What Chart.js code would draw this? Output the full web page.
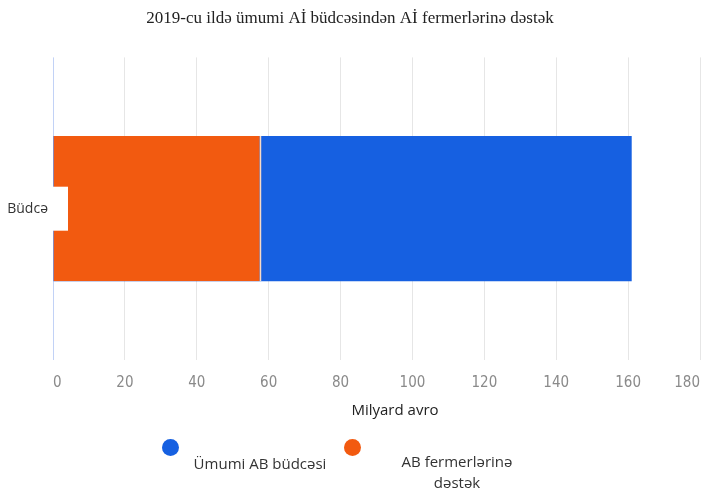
<!DOCTYPE html>
<html>
<head>
<meta charset="utf-8">
<script src="https://cdn.jsdelivr.net/npm/chart.js@4/dist/chart.umd.min.js"></script>
<style>
  html, body { margin: 0; padding: 0; background: #fff; }
  #wrap { position: relative; width: 703px; height: 490px; }
  #legend { position: absolute; left: 0; top: 0; width: 703px; height: 490px; pointer-events: none;
            font-family: "Open Sans", sans-serif; font-size: 15px; color: #333; }
  .dot { position: absolute; width: 17px; height: 17px; border-radius: 50%; }
  .lbl { position: absolute; text-align: center; line-height: 21px; }
  #xtitle { position: absolute; left: 295px; top: 398px; width: 200px; text-align: center;
            font-family: "Open Sans", sans-serif; font-size: 15px; color: #222; line-height: 22px; }
</style>
</head>
<body>
<div id="wrap">
  <canvas id="c" width="703" height="490"></canvas>
  <div id="legend"></div>
  <div id="xtitle"></div>
</div>
<script>
const titleText = "2019-cu ildə ümumi Aİ büdcəsindən Aİ fermerlərinə dəstək";
const categories = ["Büdcə"];
const seriesNames = ["Ümumi AB büdcəsi", "AB fermerlərinə dəstək"];
const totalBudget = [161];
const farmerSupport = [58];
const seriesColors = ["#1660E1", "#F25A10"];
const xTitle = "Milyard avro";

// white label box that overlaps the start of the bar (as in the reference)
const labelBoxPlugin = {
  id: 'labelBox',
  afterDatasetsDraw(chart) {
    const ys = chart.scales.y, ctx = chart.ctx;
    ctx.save();
    ctx.fillStyle = '#ffffff';
    ys.ticks.forEach((t, i) => {
      const py = ys.getPixelForTick(i);
      ctx.fillRect(ys.right - 1, py - 22, 16, 44);
    });
    ctx.restore();
  }
};

const chart = new Chart(document.getElementById('c'), {
  type: 'bar',
  data: {
    labels: categories,
    datasets: [
      { label: seriesNames[0], data: totalBudget, backgroundColor: seriesColors[0], order: 2,
        barPercentage: 0.8, categoryPercentage: 0.6 },
      { label: seriesNames[1], data: farmerSupport, backgroundColor: seriesColors[1], order: 1,
        borderColor: '#f7d9c6', borderWidth: { right: 2, left: 0, top: 0, bottom: 0 }, borderSkipped: false,
        barPercentage: 0.8, categoryPercentage: 0.6 }
    ]
  },
  plugins: [labelBoxPlugin],
  options: {
    indexAxis: 'y',
    responsive: false,
    animation: false,
    layout: { padding: { left: 0, right: 3, top: 0, bottom: 84 } },
    plugins: {
      legend: { display: false },
      tooltip: { enabled: false },
      title: {
        display: true, text: titleText, color: '#222',
        font: { family: '"Liberation Serif", "Times New Roman", serif', size: 17, weight: 'normal' },
        padding: { top: 8, bottom: 29 }
      }
    },
    scales: {
      x: {
        min: 0, max: 180,
        stacked: false,
        ticks: { stepSize: 20, color: '#8a8a8a', align: 'inner', padding: 14,
                 font: { family: '"Liberation Sans Narrow", "DejaVu Sans Condensed", sans-serif', size: 15 } },
        grid: { color: c => (c.tick && c.tick.value === 0) ? '#c2d2f6' : '#e6e6e6', drawTicks: false, tickLength: 0 },
        border: { display: false },
        afterFit: s => { s.paddingRight = 0; }
      },
      y: {
        stacked: true,
        grid: { display: false, drawTicks: false, tickLength: 0 },
        border: { display: false },
        ticks: { color: '#333', padding: 5,
                 font: { family: '"Open Sans", sans-serif', size: 14 } },
        afterFit: s => { s.width = 53; }
      }
    }
  }
});

document.getElementById('xtitle').textContent = xTitle;

// HTML legend built from the chart's datasets
const leg = document.getElementById('legend');
const legendPos = [ { dot: [162, 439], lbl: [190, 453, 140] }, { dot: [344, 439], lbl: [392, 451, 130] } ];
chart.data.datasets.forEach((ds, i) => {
  const d = document.createElement('div');
  d.className = 'dot';
  d.style.background = ds.backgroundColor;
  d.style.left = legendPos[i].dot[0] + 'px';
  d.style.top = legendPos[i].dot[1] + 'px';
  leg.appendChild(d);
  const t = document.createElement('div');
  t.className = 'lbl';
  t.textContent = ds.label;
  t.style.left = legendPos[i].lbl[0] + 'px';
  t.style.top = legendPos[i].lbl[1] + 'px';
  t.style.width = legendPos[i].lbl[2] + 'px';
  leg.appendChild(t);
});
</script>
</body>
</html>
